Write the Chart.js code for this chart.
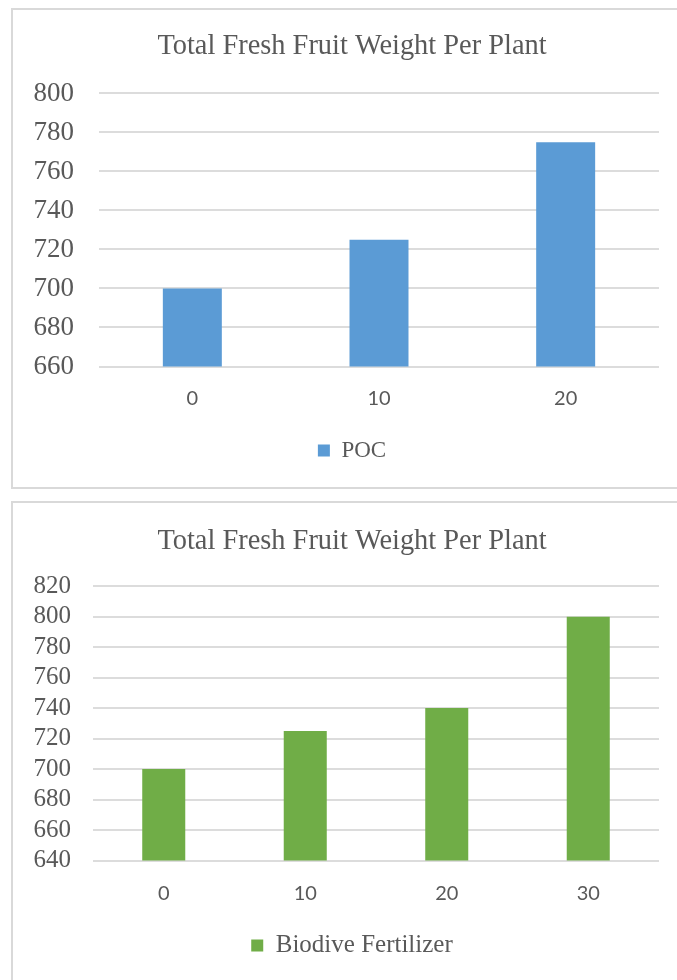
<!DOCTYPE html>
<html>
<head>
<meta charset="utf-8">
<script src="https://cdn.jsdelivr.net/npm/chart.js@4/dist/chart.umd.min.js"></script>
<style>
  html, body { margin: 0; padding: 0; background: #ffffff; overflow: hidden; }
  body { width: 677px; height: 980px; position: relative; }
  .panel {
    position: absolute;
    left: 11px;
    width: 700px;
    border: 2px solid #d9d9d9;
    background: #ffffff;
  }
  #panel1 { top: 8px; height: 477px; }
  #panel2 { top: 501px; height: 520px; }
  canvas { display: block; }
</style>
</head>
<body>
<div class="panel" id="panel1"><canvas id="chart1" width="690" height="475"></canvas></div>
<div class="panel" id="panel2"><canvas id="chart2" width="690" height="478"></canvas></div>
<script>
// Shared title for both panels
const chartTitle = 'Total Fresh Fruit Weight Per Plant';

// POC doses and fresh fruit weight per plant
const pocDoses = ['0', '10', '20'];
const pocWeights = [700, 725, 775];
const pocAxis = { min: 660, max: 800, step: 20 };

// Biodive fertilizer doses and fresh fruit weight per plant
const bioDoses = ['0', '10', '20', '30'];
const bioWeights = [700, 725, 740, 800];
const bioAxis = { min: 640, max: 820, step: 20 };

const textGrey = '#595959';
const gridGrey = '#dcdcdc';

function makeChart(canvasId, labels, values, seriesName, color, axis, L) {
  return new Chart(document.getElementById(canvasId), {
    type: 'bar',
    data: {
      labels: labels,
      datasets: [{
        label: seriesName,
        data: values,
        backgroundColor: color,
        borderWidth: 0,
        categoryPercentage: 1,
        barPercentage: L.barPct,
        yAxisID: 'y'
      }]
    },
    options: {
      responsive: false,
      animation: false,
      layout: { padding: { left: 0, right: 12, top: 0, bottom: 13 } },
      plugins: {
        tooltip: { enabled: false },
        title: {
          display: true,
          text: chartTitle,
          color: textGrey,
          font: { family: '"Liberation Serif", serif', size: 28.4, weight: 'normal', lineHeight: 1.2 },
          padding: { top: L.titleTop, bottom: L.titleBottom }
        },
        legend: {
          display: true,
          position: 'bottom',
          labels: {
            color: textGrey,
            boxWidth: 12,
            boxHeight: 12,
            padding: L.legendPad,
            font: { family: '"Liberation Serif", serif', size: L.legendSize }
          }
        }
      },
      scales: {
        x: {
          grid: { display: false, drawTicks: false },
          border: { display: false },
          ticks: {
            color: textGrey,
            padding: L.xPad,
            font: { family: 'Lato, sans-serif', size: 20, lineHeight: 1.2 }
          },
          afterFit: function (scale) { scale.height = 60; }
        },
        y: {
          min: axis.min,
          max: axis.max,
          grid: { color: gridGrey, lineWidth: 2, drawTicks: false },
          border: { display: false },
          ticks: {
            stepSize: axis.step,
            autoSkip: false,
            color: textGrey,
            padding: L.yPad,
            font: { family: '"Liberation Serif", serif', size: L.ySize }
          },
          afterFit: function (scale) { scale.width = L.yWidth; }
        },
        // empty right-hand margin beside the plot
        gutter: {
          type: 'linear',
          position: 'right',
          grid: { display: false, drawTicks: false },
          border: { display: false },
          ticks: { display: false },
          afterFit: function (scale) { scale.width = 32; }
        }
      }
    }
  });
}

makeChart('chart1', pocDoses, pocWeights, 'POC', '#5b9bd5', pocAxis, {
  barPct: 0.316, titleTop: 20, titleBottom: 29.4, legendPad: 12.5, legendSize: 23,
  xPad: 20, yPad: 25, ySize: 27, yWidth: 86
});

makeChart('chart2', bioDoses, bioWeights, 'Biodive Fertilizer', '#70ad47', bioAxis, {
  barPct: 0.304, titleTop: 21.5, titleBottom: 27.6, legendPad: 12.5, legendSize: 25,
  xPad: 21, yPad: 22, ySize: 25, yWidth: 80
});
</script>
</body>
</html>
